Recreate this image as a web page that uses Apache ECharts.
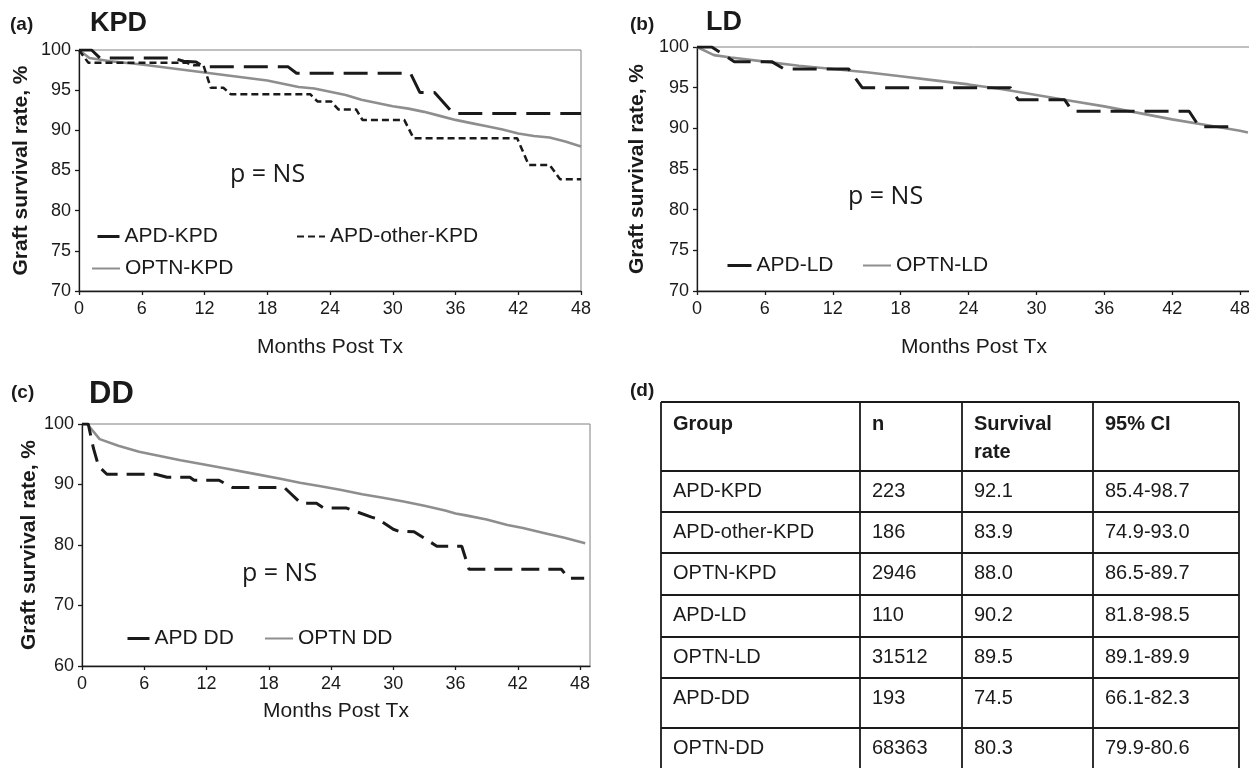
<!DOCTYPE html>
<html><head><meta charset="utf-8">
<script src="https://cdn.jsdelivr.net/npm/echarts@6/dist/echarts.min.js"></script>
<style>html,body{margin:0;padding:0;background:#fff}#c{width:1249px;height:768px}</style>
</head><body><div id="c"></div>
<script>
// ---------- data ----------
// Panel (a) KPD
const apdKpdMonths  = [0, 1.2, 2.0, 9.0, 10.0, 11.2, 11.9, 20.0, 20.8, 31.7, 32.6, 34.0, 35.8, 48];
const apdKpdValues  = [100, 100, 99.0, 99.0, 98.6, 98.5, 97.9, 97.9, 97.1, 97.1, 94.7, 94.7, 92.1, 92.1];
const apdOtherMonths = [0, 0.9, 10.3, 11.0, 11.9, 12.6, 13.8, 14.5, 22.1, 22.8, 24.1, 24.8, 26.5, 27.1, 31.1, 32.0, 41.9, 43.0, 45.0, 46.0, 48];
const apdOtherValues = [100, 98.4, 98.4, 98.1, 98.1, 95.3, 95.3, 94.5, 94.5, 93.6, 93.6, 92.6, 92.6, 91.3, 91.3, 89.0, 89.0, 85.7, 85.7, 83.9, 83.9];
const optnKpdMonths = [0, 1, 3, 6, 9, 12, 15, 18, 19.5, 21, 22.5, 24, 25.5, 27, 28.5, 30, 31.5, 33, 34.5, 36, 37.5, 39, 40.5, 42, 43.5, 45, 46.5, 48];
const optnKpdValues = [100, 99.0, 98.6, 98.2, 97.7, 97.2, 96.7, 96.2, 95.8, 95.4, 95.2, 94.8, 94.4, 93.8, 93.4, 93.0, 92.7, 92.3, 91.8, 91.3, 90.9, 90.5, 90.1, 89.6, 89.3, 89.1, 88.6, 88.0];
// Panel (b) LD
const apdLdMonths = [0, 1.3, 3.3, 6.6, 7.7, 13.4, 14.6, 27.7, 28.4, 32.5, 33.2, 43.5, 44.4, 47.7];
const apdLdValues = [100, 100, 98.2, 98.2, 97.3, 97.3, 95.0, 95.0, 93.5, 93.5, 92.1, 92.1, 90.2, 90.2];
const optnLdMonths = [0, 1.5, 3, 6, 9, 12, 15, 18, 21, 24, 27, 30, 33, 36, 39, 42, 45, 48, 48.7];
const optnLdValues = [100, 99.0, 98.7, 98.2, 97.7, 97.3, 96.9, 96.4, 95.9, 95.4, 94.8, 94.1, 93.4, 92.7, 91.9, 91.1, 90.4, 89.7, 89.5];
// Panel (c) DD
const apdDdMonths = [0, 0.6, 1.1, 1.6, 2.4, 7.1, 8.2, 10.4, 10.8, 13.2, 14.5, 19.5, 21.1, 22.6, 23.3, 25.5, 27.9, 28.5, 30.0, 30.5, 32.0, 34.2, 36.6, 37.3, 46.2, 46.9, 48.4];
const apdDdValues = [100, 100, 96.0, 93.0, 91.7, 91.7, 91.2, 91.2, 90.7, 90.7, 89.5, 89.5, 86.9, 86.9, 86.1, 86.1, 84.6, 84.3, 82.6, 82.3, 82.2, 79.8, 79.8, 76.0, 76.0, 74.5, 74.5];
const optnDdMonths = [0, 0.5, 1.7, 3.5, 5.5, 7.5, 9.5, 11.5, 14, 16.5, 19, 21, 23, 25, 27, 29, 31, 33, 35, 36, 37, 39, 41, 42.5, 44.5, 46.5, 48.5];
const optnDdValues = [100, 100, 97.5, 96.4, 95.4, 94.7, 94.0, 93.4, 92.6, 91.8, 91.0, 90.3, 89.7, 89.1, 88.4, 87.8, 87.2, 86.5, 85.7, 85.2, 84.9, 84.2, 83.3, 82.8, 82.0, 81.2, 80.3];
// Panel (d) table
const tableHeader = ['Group', 'n', 'Survival\nrate', '95% CI'];
const tableGroups = ['APD-KPD', 'APD-other-KPD', 'OPTN-KPD', 'APD-LD', 'OPTN-LD', 'APD-DD', 'OPTN-DD'];
const tableN = ['223', '186', '2946', '110', '31512', '193', '68363'];
const tableRate = ['92.1', '83.9', '88.0', '90.2', '89.5', '74.5', '80.3'];
const tableCI = ['85.4-98.7', '74.9-93.0', '86.5-89.7', '81.8-98.5', '89.1-89.9', '66.1-82.3', '79.9-80.6'];
// axes
const xTickStep = 6;
const yTickStepKL = 5;
const yTickStepDD = 10;

// ---------- styling ----------
const FONT = 'Liberation Sans, Arial, sans-serif';
const INK = '#1a1a1a';
const GRAY = '#8e8e8e';
const pairs = (xs, ys) => xs.map((x, i) => [x, ys[i]]);

function xAx(gi, max, gap) {
  return {
    gridIndex: gi, type: 'value', min: 0, max: max, interval: xTickStep,
    name: 'Months Post Tx', nameLocation: 'middle', nameGap: gap,
    nameTextStyle: { fontSize: 21, color: INK, fontFamily: FONT },
    axisLine: { lineStyle: { color: INK, width: 1.3 } },
    axisTick: { length: 4, lineStyle: { color: INK, width: 1.3 } },
    axisLabel: { fontSize: 18, color: INK, fontFamily: FONT, margin: 9, showMaxLabel: max === 48 },
    splitLine: { show: false }
  };
}
function yAx(gi, min, step, gap) {
  return {
    gridIndex: gi, type: 'value', min: min, max: 100, interval: step,
    name: 'Graft survival rate, %', nameLocation: 'middle', nameGap: gap, nameRotate: 90,
    nameTextStyle: { fontSize: 21, fontWeight: 'bold', color: INK, fontFamily: FONT },
    axisLine: { show: true, lineStyle: { color: INK, width: 1.3 } },
    axisTick: { show: true, length: 4, lineStyle: { color: INK, width: 1.3 } },
    axisLabel: { fontSize: 18, color: INK, fontFamily: FONT, margin: 8 },
    splitLine: { show: false }
  };
}
function ser(name, gi, xs, ys, color, width, dash) {
  return {
    name: name, type: 'line', xAxisIndex: gi, yAxisIndex: gi,
    data: pairs(xs, ys), symbol: 'none', showSymbol: false, animation: false,
    lineStyle: { color: color, width: width, type: dash || 'solid' },
    itemStyle: { color: color }, z: dash ? 3 : 2
  };
}
function leg(name, left, top, w, solidDash) {
  const l = {
    data: [name], left: left, top: top, padding: 0, itemWidth: w, itemHeight: 14,
    selectedMode: false, orient: 'horizontal',
    itemStyle: { opacity: 0, borderWidth: 0 },
    textStyle: { fontSize: 21, color: INK, fontFamily: FONT }
  };
  if (solidDash) l.lineStyle = { type: 'solid', width: 3 };
  return l;
}
function txt(text, left, top, size, bold, family) {
  return {
    text: text, left: left, top: top, padding: 0,
    textStyle: { fontSize: size, fontWeight: bold ? 'bold' : 'normal', color: INK, fontFamily: family || FONT }
  };
}

// ---------- table graphic ----------
const colX = [661, 860, 962, 1093, 1239];
const rowY = [402, 471, 512, 553, 595, 637, 678, 728];
const tableBottom = 800;
const graphics = [];
rowY.forEach(y => graphics.push({ type: 'line', shape: { x1: colX[0], y1: y, x2: colX[4], y2: y }, style: { stroke: INK, lineWidth: 1.8 } }));
colX.forEach(x => graphics.push({ type: 'line', shape: { x1: x, y1: rowY[0], x2: x, y2: tableBottom }, style: { stroke: INK, lineWidth: 1.8 } }));
tableHeader.forEach((h, c) => graphics.push({
  type: 'text', x: colX[c] + 12, y: 410,
  style: { text: h, fill: INK, fontSize: 20, fontWeight: 'bold', fontFamily: FONT, lineHeight: 28, verticalAlign: 'top' }
}));
const cols = [tableGroups, tableN, tableRate, tableCI];
tableGroups.forEach((g, r) => {
  cols.forEach((col, c) => graphics.push({
    type: 'text', x: colX[c] + 12, y: rowY[r + 1] + 20,
    style: { text: col[r], fill: INK, fontSize: 20, fontFamily: FONT, verticalAlign: 'middle' }
  }));
});
graphics.push({ type: 'text', x: 630, y: 391, style: { text: '(d)', fill: INK, fontSize: 19, fontWeight: 'bold', fontFamily: FONT, verticalAlign: 'middle' } });

const chart = echarts.init(document.getElementById('c'), null, { renderer: 'canvas' });
chart.setOption({
  animation: false,
  backgroundColor: '#fff',
  grid: [
    { left: 79, top: 50, width: 502, height: 241, show: true, borderColor: '#808080', borderWidth: 1, outerBoundsMode: 'none', containLabel: false },
    { left: 697, top: 47, width: 554, height: 244, show: true, borderColor: '#808080', borderWidth: 1, outerBoundsMode: 'none', containLabel: false },
    { left: 82, top: 424, width: 508, height: 242, show: true, borderColor: '#808080', borderWidth: 1, outerBoundsMode: 'none', containLabel: false }
  ],
  xAxis: [xAx(0, 48, 46), xAx(1, 48.97, 46), xAx(2, 48.96, 35)],
  yAxis: [yAx(0, 70, yTickStepKL, 47), yAx(1, 70, yTickStepKL, 49), yAx(2, 60, yTickStepDD, 42)],
  series: [
    ser('APD-KPD', 0, apdKpdMonths, apdKpdValues, INK, 3, [24, 10]),
    ser('APD-other-KPD', 0, apdOtherMonths, apdOtherValues, INK, 2.5, [7, 4]),
    ser('OPTN-KPD', 0, optnKpdMonths, optnKpdValues, GRAY, 2.6),
    ser('APD-LD', 1, apdLdMonths, apdLdValues, INK, 3, [24, 10]),
    ser('OPTN-LD', 1, optnLdMonths, optnLdValues, GRAY, 2.6),
    ser('APD DD', 2, apdDdMonths, apdDdValues, INK, 3, [18, 9]),
    ser('OPTN DD', 2, optnDdMonths, optnDdValues, GRAY, 2.6)
  ],
  legend: [
    leg('APD-KPD', 96, 226, 22, true), leg('APD-other-KPD', 296, 226, 28, false), leg('OPTN-KPD', 91, 258, 28, false),
    leg('APD-LD', 726, 255, 24, true), leg('OPTN-LD', 862, 255, 28, false),
    leg('APD DD', 126, 628, 22, true), leg('OPTN DD', 264, 628, 28, false)
  ],
  title: [
    txt('(a)', 10, 15, 19, true), txt('KPD', 90, 10, 27, true),
    txt('(b)', 630, 15, 19, true), txt('LD', 706, 9, 27, true),
    txt('(c)', 11, 383, 19, true), txt('DD', 89, 379, 31, true),
    txt('p = NS', 230, 162, 25, false, 'Open Sans'),
    txt('p = NS', 848, 184, 25, false, 'Open Sans'),
    txt('p = NS', 242, 561, 25, false, 'Open Sans')
  ],
  graphic: graphics
});
</script></body></html>
